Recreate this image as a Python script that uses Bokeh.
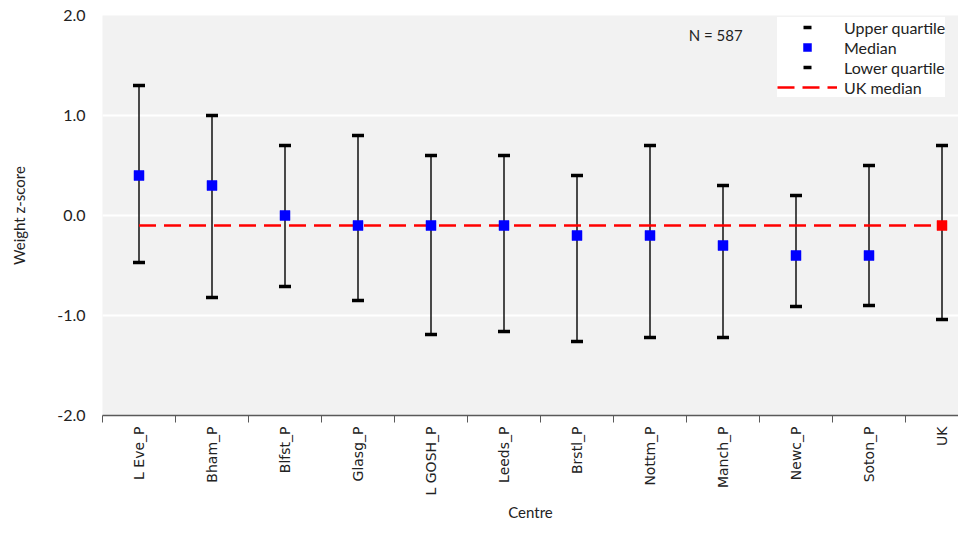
import math
from bokeh.plotting import figure
from bokeh.models import Range1d, FixedTicker, Legend, LegendItem, Label, ColumnDataSource
from bokeh.embed import file_html
from bokeh.resources import INLINE

# ---- data ----
centres = ["L Eve_P", "Bham_P", "Blfst_P", "Glasg_P", "L GOSH_P", "Leeds_P",
           "Brstl_P", "Nottm_P", "Manch_P", "Newc_P", "Soton_P", "UK"]
upper_q = [1.30, 1.00, 0.70, 0.80, 0.60, 0.60, 0.40, 0.70, 0.30, 0.20, 0.50, 0.70]
median = [0.40, 0.30, 0.00, -0.10, -0.10, -0.10, -0.20, -0.20, -0.30, -0.40, -0.40, -0.10]
lower_q = [-0.47, -0.82, -0.71, -0.85, -1.19, -1.16, -1.26, -1.22, -1.22, -0.91, -0.90, -1.04]
uk_median = -0.10
n_total = 587
y_ticks = [-2.0, -1.0, 0.0, 1.0, 2.0]

xpos = [i + 0.5 for i in range(len(centres))]
colors = ["#ff0000" if c == "UK" else "#0000ff" for c in centres]

src = ColumnDataSource(dict(x=xpos, up=upper_q, med=median, lo=lower_q, col=colors, name=centres))

FONT = "Lato"
TXT = "#222222"
p = figure(width=958, height=525, output_backend="svg", toolbar_location=None,
           x_range=Range1d(0, len(centres) - 0.274), y_range=Range1d(-2, 2),
           min_border_left=102, min_border_right=0, min_border_top=15, min_border_bottom=110)
p.background_fill_color = "#f2f2f2"
p.border_fill_color = "white"
p.outline_line_color = None

# grid
p.xgrid.grid_line_color = None
p.ygrid.grid_line_color = "white"
p.ygrid.grid_line_width = 2
p.ygrid.ticker = FixedTicker(ticks=y_ticks)

# y axis
p.yaxis.ticker = FixedTicker(ticks=y_ticks)
p.yaxis.major_label_overrides = {t: f"{t:.1f}" for t in y_ticks}
p.yaxis.axis_line_color = None
p.yaxis.major_tick_line_color = None
p.yaxis.minor_tick_line_color = None
p.yaxis.major_tick_out = 0
p.yaxis.major_label_standoff = 17
p.yaxis.major_label_text_font = FONT
p.yaxis.major_label_text_font_size = "16px"
p.yaxis.major_label_text_color = TXT
p.yaxis.axis_label = "Weight z-score"
p.yaxis.axis_label_text_font = FONT
p.yaxis.axis_label_text_font_size = "15px"
p.yaxis.axis_label_text_font_style = "normal"
p.yaxis.axis_label_text_color = TXT
p.yaxis.axis_label_standoff = 26

# x axis
p.xaxis.ticker = FixedTicker(ticks=xpos, minor_ticks=list(range(len(centres) + 1)))
p.xaxis.major_label_overrides = {x: c for x, c in zip(xpos, centres)}
p.xaxis.major_label_orientation = math.pi / 2
p.xaxis.major_tick_line_color = None
p.xaxis.major_tick_out = 6
p.xaxis.major_label_standoff = 4
p.xaxis.minor_tick_line_color = "#595959"
p.xaxis.minor_tick_in = 0
p.xaxis.minor_tick_out = 7
p.xaxis.axis_line_color = "#595959"
p.xaxis.axis_line_width = 1.5
p.xaxis.major_label_text_font = "DejaVu Sans"
p.xaxis.major_label_text_font_size = "14px"
p.xaxis.major_label_text_color = TXT
p.xaxis.axis_label = "Centre"
p.xaxis.axis_label_text_font = FONT
p.xaxis.axis_label_text_font_size = "15px"
p.xaxis.axis_label_text_font_style = "normal"
p.xaxis.axis_label_text_color = TXT
p.xaxis.axis_label_standoff = 5

# whiskers
p.segment(x0="x", y0="lo", x1="x", y1="up", source=src, line_color="black", line_width=1.4)

# UK median line
uk_line = p.line(x=[xpos[0], xpos[-1]], y=[uk_median, uk_median], line_color="#ff0000",
                 line_width=2.5, line_dash="17 8")

up_r = p.scatter(x="x", y="up", source=src, marker="dash", size=12, line_color="black",
                 line_width=3.5)
lo_r = p.scatter(x="x", y="lo", source=src, marker="dash", size=12, line_color="black",
                 line_width=3.5)
med_r = p.scatter(x="x", y="med", source=src, marker="square", size=10, fill_color="col",
                  line_color="col", line_width=0.5)

legend = Legend(items=[
    LegendItem(label="Upper quartile", renderers=[up_r]),
    LegendItem(label="Median", renderers=[med_r], index=0),
    LegendItem(label="Lower quartile", renderers=[lo_r]),
    LegendItem(label="UK median", renderers=[uk_line]),
], location=(675, 318))
legend.background_fill_color = "white"
legend.background_fill_alpha = 1.0
legend.border_line_color = None
legend.padding = 2
legend.spacing = 0
legend.margin = 0
legend.glyph_width = 60
legend.glyph_height = 20
legend.label_height = 20
legend.label_width = 100
legend.label_standoff = 7
legend.label_text_font = FONT
legend.label_text_font_size = "16px"
legend.label_text_color = TXT
legend.label_text_baseline = "middle"
p.add_layout(legend, "center")

n_label = Label(x=8.03, y=1.81, text=f"N = {n_total}", text_font=FONT, text_font_size="15px",
                text_color=TXT, text_baseline="middle")
p.add_layout(n_label)

open("out.html", "w").write(file_html(p, INLINE))
